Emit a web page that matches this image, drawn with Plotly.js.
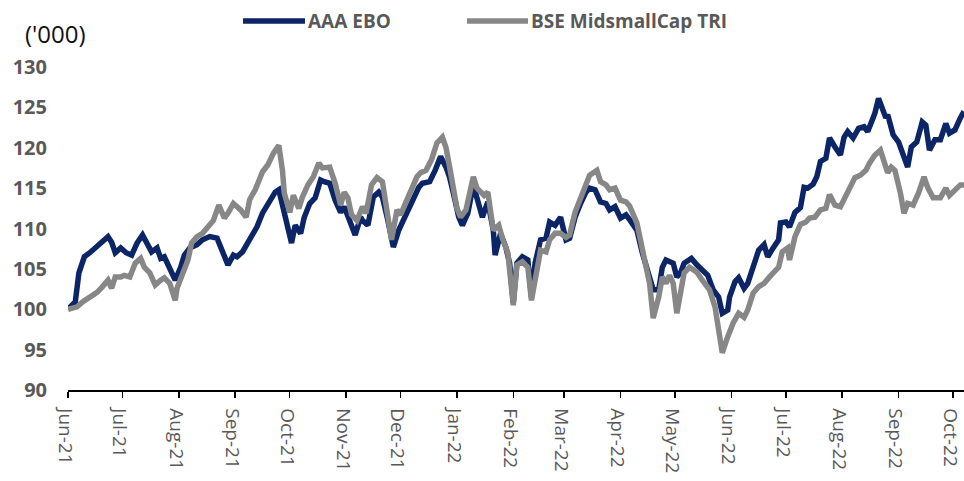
<!DOCTYPE html>
<html>
<head>
<meta charset="utf-8">
<script src="https://cdn.plot.ly/plotly-3.0.1.min.js"></script>
<style>
html,body{margin:0;padding:0;background:#fff;}
#chart{width:964px;height:481px;}
</style>
</head>
<body>
<div id="chart"></div>
<script>
// ---- Data ----
const seriesNames = ["AAA EBO", "BSE MidsmallCap TRI"];
const unitLabel = "('000)";

const eboDates = [
"2021-06-01","2021-06-05","2021-06-07","2021-06-10","2021-06-13","2021-06-16","2021-06-19","2021-06-23","2021-06-25","2021-06-27",
"2021-06-30","2021-07-03","2021-07-06","2021-07-09","2021-07-12","2021-07-14","2021-07-17","2021-07-20","2021-07-22","2021-07-24",
"2021-07-27","2021-07-30","2021-08-02","2021-08-04","2021-08-07","2021-08-11","2021-08-14","2021-08-18","2021-08-22","2021-08-25",
"2021-08-28","2021-08-31","2021-09-02","2021-09-05","2021-09-09","2021-09-13","2021-09-16","2021-09-20","2021-09-23","2021-09-25",
"2021-09-27","2021-09-30","2021-10-02","2021-10-04","2021-10-07","2021-10-09","2021-10-12","2021-10-15","2021-10-18","2021-10-20",
"2021-10-23","2021-10-26","2021-10-29","2021-10-31","2021-11-03","2021-11-06","2021-11-09","2021-11-10","2021-11-13","2021-11-16",
"2021-11-19","2021-11-21","2021-11-24","2021-11-27","2021-11-30","2021-12-02","2021-12-05","2021-12-08","2021-12-11","2021-12-13",
"2021-12-17","2021-12-20","2021-12-23","2021-12-26","2021-12-28","2021-12-30","2022-01-02","2022-01-04","2022-01-07","2022-01-10",
"2022-01-12","2022-01-15","2022-01-18","2022-01-21","2022-01-22","2022-01-25","2022-01-28","2022-01-30","2022-02-01","2022-02-03",
"2022-02-06","2022-02-09","2022-02-11","2022-02-13","2022-02-16","2022-02-19","2022-02-21","2022-02-24","2022-02-27","2022-03-02",
"2022-03-04","2022-03-07","2022-03-10","2022-03-13","2022-03-15","2022-03-18","2022-03-21","2022-03-24","2022-03-26","2022-03-29",
"2022-04-01","2022-04-04","2022-04-06","2022-04-10","2022-04-13","2022-04-16","2022-04-19","2022-04-22","2022-04-24","2022-04-26",
"2022-04-28","2022-04-30","2022-05-02","2022-05-04","2022-05-06","2022-05-10","2022-05-13","2022-05-16","2022-05-19","2022-05-22",
"2022-05-25","2022-05-27","2022-05-30","2022-05-31","2022-06-03","2022-06-05","2022-06-08","2022-06-10","2022-06-13","2022-06-16",
"2022-06-19","2022-06-21","2022-06-24","2022-06-27","2022-06-28","2022-07-01","2022-07-03","2022-07-06","2022-07-09","2022-07-11",
"2022-07-13","2022-07-16","2022-07-18","2022-07-20","2022-07-23","2022-07-25","2022-07-28","2022-07-31","2022-08-02","2022-08-04",
"2022-08-07","2022-08-10","2022-08-13","2022-08-15","2022-08-18","2022-08-19","2022-08-21","2022-08-23","2022-08-25","2022-08-26",
"2022-08-29","2022-09-01","2022-09-03","2022-09-06","2022-09-08","2022-09-11","2022-09-14","2022-09-16","2022-09-18","2022-09-21",
"2022-09-24","2022-09-27","2022-09-29","2022-10-02","2022-10-05","2022-10-07"
];
const eboValues = [
100.0,100.9,104.5,106.5,107.0,107.6,108.2,109.0,108.3,107.0,
107.6,107.0,106.7,108.2,109.2,108.3,107.1,107.6,106.3,106.5,
105.2,103.6,105.2,106.7,107.6,108.0,108.6,109.0,108.8,107.3,
105.5,106.7,106.5,107.1,108.6,110.2,111.9,113.5,114.5,114.8,
112.7,110.2,108.2,110.4,109.4,111.4,113.1,113.8,116.0,115.8,
115.6,113.5,112.0,112.7,111.0,109.2,111.4,111.0,110.4,113.9,
114.5,113.9,111.0,107.7,109.8,110.8,111.9,113.5,115.1,115.6,
115.8,117.2,118.9,117.6,116.3,114.4,111.4,110.4,111.9,115.4,
113.9,111.4,113.3,109.8,106.7,109.4,107.6,105.7,100.8,105.7,
106.5,106.1,101.5,105.7,108.6,108.8,110.8,110.4,111.4,108.6,
108.8,111.4,113.1,114.5,115.0,114.8,113.3,113.1,112.3,112.7,
111.3,111.7,111.1,109.8,107.0,104.9,102.4,102.4,105.2,106.1,
105.9,105.7,104.0,104.5,105.7,106.3,105.5,104.9,104.2,102.4,
101.5,99.5,99.9,101.5,103.4,103.9,102.6,103.2,105.2,107.3,
108.0,106.5,107.6,108.6,110.7,110.8,110.2,112.0,112.6,115.1,
115.0,115.5,116.4,118.3,118.7,121.2,120.1,119.1,121.3,122.0,
121.2,122.4,122.6,122.0,123.7,124.3,126.1,125.0,123.7,124.1,
121.6,120.7,119.3,117.6,120.1,120.7,123.2,122.8,119.7,121.0,
121.0,123.0,121.8,122.2,123.7,124.5
];

const bseDates = [
"2021-06-01","2021-06-06","2021-06-09","2021-06-13","2021-06-17","2021-06-20","2021-06-23","2021-06-25","2021-06-27","2021-06-30",
"2021-07-02","2021-07-05","2021-07-08","2021-07-11","2021-07-13","2021-07-16","2021-07-19","2021-07-22","2021-07-24","2021-07-27",
"2021-07-30","2021-07-31","2021-08-03","2021-08-06","2021-08-08","2021-08-11","2021-08-14","2021-08-17","2021-08-20","2021-08-23",
"2021-08-26","2021-08-28","2021-08-31","2021-09-04","2021-09-07","2021-09-09","2021-09-12","2021-09-16","2021-09-19","2021-09-22",
"2021-09-25","2021-09-27","2021-09-28","2021-10-01","2021-10-03","2021-10-06","2021-10-08","2021-10-11","2021-10-14","2021-10-17",
"2021-10-19","2021-10-23","2021-10-26","2021-10-29","2021-10-31","2021-11-02","2021-11-04","2021-11-07","2021-11-10","2021-11-12",
"2021-11-15","2021-11-18","2021-11-21","2021-11-23","2021-11-26","2021-11-29","2021-12-01","2021-12-04","2021-12-07","2021-12-10",
"2021-12-12","2021-12-15","2021-12-18","2021-12-21","2021-12-24","2021-12-26","2021-12-28","2022-01-01","2022-01-03","2022-01-06",
"2022-01-10","2022-01-12","2022-01-16","2022-01-18","2022-01-21","2022-01-24","2022-01-26","2022-01-29","2022-02-01","2022-02-03",
"2022-02-06","2022-02-09","2022-02-11","2022-02-14","2022-02-16","2022-02-19","2022-02-21","2022-02-24","2022-02-27","2022-03-02",
"2022-03-04","2022-03-07","2022-03-10","2022-03-13","2022-03-15","2022-03-19","2022-03-21","2022-03-24","2022-03-26","2022-03-29",
"2022-04-01","2022-04-04","2022-04-06","2022-04-10","2022-04-13","2022-04-17","2022-04-19","2022-04-22","2022-04-24","2022-04-26",
"2022-04-28","2022-04-30","2022-05-02","2022-05-04","2022-05-06","2022-05-09","2022-05-13","2022-05-16","2022-05-20","2022-05-23",
"2022-05-25","2022-05-27","2022-05-30","2022-06-02","2022-06-05","2022-06-08","2022-06-10","2022-06-13","2022-06-16","2022-06-19",
"2022-06-22","2022-06-27","2022-06-29","2022-07-02","2022-07-03","2022-07-06","2022-07-09","2022-07-12","2022-07-14","2022-07-17",
"2022-07-20","2022-07-23","2022-07-25","2022-07-28","2022-07-31","2022-08-03","2022-08-05","2022-08-08","2022-08-11","2022-08-14",
"2022-08-16","2022-08-19","2022-08-22","2022-08-24","2022-08-26","2022-08-28","2022-08-30","2022-09-02","2022-09-04","2022-09-06",
"2022-09-09","2022-09-12","2022-09-15","2022-09-17","2022-09-20","2022-09-24","2022-09-27","2022-09-29","2022-10-02","2022-10-05",
"2022-10-07"
];
const bseValues = [
100.0,100.3,100.9,101.5,102.1,102.8,103.6,102.6,104.0,104.0,
104.2,104.0,105.7,106.3,105.2,104.5,103.0,103.6,103.9,103.2,
101.1,102.6,104.6,106.1,108.2,109.0,109.4,110.2,111.0,112.9,
111.3,111.9,113.1,112.3,111.4,113.6,114.8,117.0,117.9,119.3,
120.3,117.2,114.4,112.0,114.1,112.5,113.9,115.4,116.4,118.1,
117.5,117.6,115.6,112.9,114.5,113.8,111.7,111.0,112.7,111.9,
115.4,116.3,115.8,112.9,108.6,112.3,111.7,113.3,114.8,116.4,
116.9,117.2,118.5,120.6,121.3,120.0,117.6,112.5,111.4,112.3,
116.4,115.0,114.1,114.5,109.8,110.4,108.8,107.0,100.5,105.5,
105.9,105.2,101.1,104.9,107.3,107.1,108.6,109.4,109.4,108.9,
109.2,112.0,113.9,115.8,116.6,117.2,115.8,115.4,114.8,115.0,
113.5,113.3,112.8,110.7,107.3,103.2,98.9,101.5,104.0,103.2,
104.2,103.2,99.5,102.4,104.5,105.2,104.6,103.6,102.4,100.3,
97.4,94.6,96.6,98.3,99.5,99.0,99.9,102.0,102.8,103.2,
104.0,105.2,107.1,107.6,106.1,109.0,110.5,110.8,111.3,111.4,
112.3,112.5,114.2,112.9,112.7,114.1,115.1,116.3,116.6,117.2,
118.1,119.1,119.7,118.2,116.9,117.6,117.2,114.4,111.9,113.1,
112.9,114.4,116.4,115.1,113.8,113.8,115.0,114.1,114.8,115.4,
115.4
];

const yTicks = [90, 95, 100, 105, 110, 115, 120, 125, 130];

// ---- Styles ----
const navy = "#0b2566";
const gray = "#878787";
const labelGray = "#595959";

const traces = [
  {x: eboDates, y: eboValues, name: seriesNames[0], type: "scatter", mode: "lines",
   line: {color: navy, width: 5.5}, showlegend: false},
  {x: bseDates, y: bseValues, name: seriesNames[1], type: "scatter", mode: "lines",
   line: {color: gray, width: 5.5}, showlegend: false}
];

// custom legend (line sample + text) above the plot
const legY = 1.1424;
const layout = {
  width: 964, height: 481,
  margin: {l: 68, r: 0, t: 67, b: 91, pad: 0},
  paper_bgcolor: "#ffffff", plot_bgcolor: "#ffffff",
  font: {family: "Open Sans, sans-serif", color: labelGray},
  xaxis: {
    type: "date",
    range: ["2021-06-01", "2022-10-07"],
    tick0: "2021-06-01", dtick: "M1", tickformat: "%b-%y",
    tickangle: 90,
    ticks: "outside", ticklen: 6, tickwidth: 1.5, tickcolor: "#000",
    showline: true, linecolor: "#000", linewidth: 1.5,
    showgrid: false, zeroline: false,
    tickfont: {family: "Open Sans, sans-serif", size: 19, color: labelGray},
    ticklabelstandoff: 7,
    ticklabelshift: -3,
    ticklabeloverflow: "allow"
  },
  yaxis: {
    range: [90, 130],
    tickvals: yTicks,
    showline: false, showgrid: false, zeroline: false, ticks: "",
    tickfont: {family: "Open Sans, sans-serif", size: 20, color: labelGray, weight: "bold"},
    ticklabelstandoff: 20
  },
  shapes: [
    {type: "line", xref: "paper", yref: "paper", x0: 0.1953, x1: 0.2645, y0: legY, y1: legY,
     line: {color: navy, width: 5.5}},
    {type: "line", xref: "paper", yref: "paper", x0: 0.4453, x1: 0.5134, y0: legY, y1: legY,
     line: {color: gray, width: 5.5}}
  ],
  annotations: [
    {text: seriesNames[0], xref: "paper", yref: "paper", x: 0.2655, y: legY,
     xanchor: "left", yanchor: "middle", showarrow: false,
     font: {family: "Open Sans, sans-serif", size: 19, color: labelGray, weight: "bold"}},
    {text: seriesNames[1], xref: "paper", yref: "paper", x: 0.5145, y: legY,
     xanchor: "left", yanchor: "middle", showarrow: false,
     font: {family: "Open Sans, sans-serif", size: 19, color: labelGray, weight: "bold"}},
    {text: unitLabel, xref: "paper", yref: "paper", x: -0.0145, y: 1.105,
     xanchor: "center", yanchor: "middle", showarrow: false,
     font: {family: "Open Sans, sans-serif", size: 24, color: "#111111"}}
  ]
};

Plotly.newPlot("chart", traces, layout, {displayModeBar: false, staticPlot: true});
</script>
</body>
</html>
